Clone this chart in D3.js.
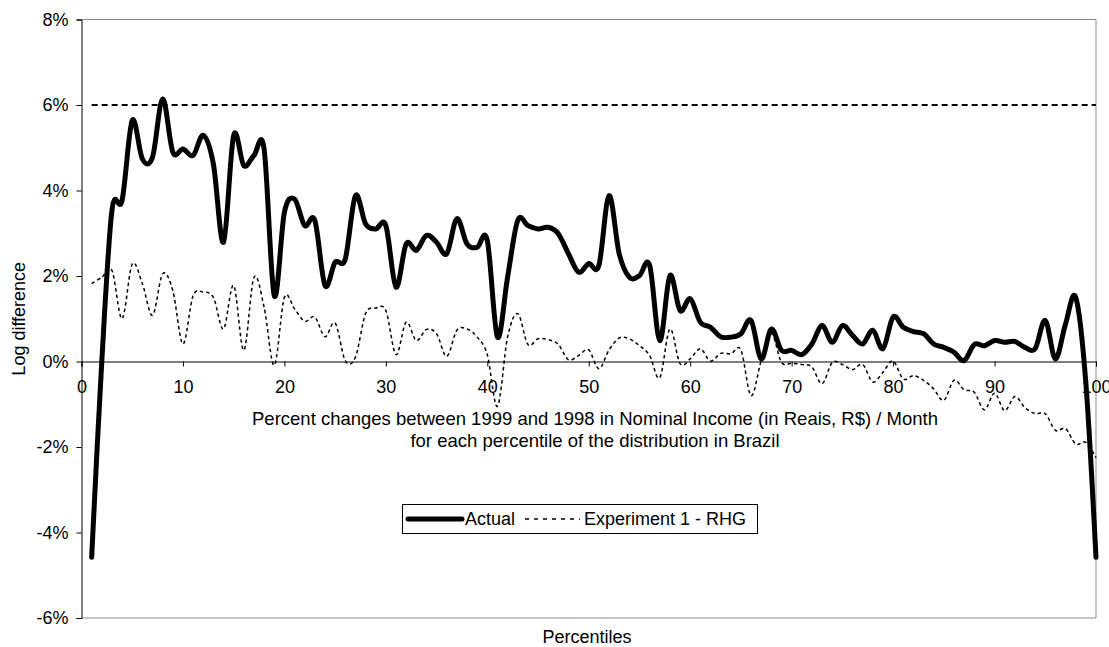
<!DOCTYPE html>
<html>
<head>
<meta charset="utf-8">
<script src="https://cdn.jsdelivr.net/npm/d3@7"></script>
<style>
  body { margin: 0; background: #fff; }
  svg { display: block; }
  text { font-family: "Liberation Sans", Arial, sans-serif; fill: #000; }
</style>
</head>
<body>
<svg id="chart" width="1109" height="647"></svg>
<script>
// ---- Data (values in percent, log difference) ----
const percentiles = d3.range(1, 101);

const actual = [
  -4.58, 0.00, 3.53, 3.77, 5.64, 4.74, 4.78, 6.14, 4.90, 4.97,
   4.82, 5.29, 4.62, 2.79, 5.29, 4.58, 4.82, 4.97, 1.54, 3.49,
   3.80, 3.18, 3.30, 1.78, 2.32, 2.40, 3.88, 3.22, 3.10, 3.18,
   1.74, 2.75, 2.60, 2.95, 2.79, 2.52, 3.34, 2.75, 2.67, 2.83,
   0.57, 1.97, 3.30, 3.18, 3.10, 3.14, 2.99, 2.52, 2.09, 2.29,
   2.25, 3.88, 2.52, 1.97, 2.01, 2.25, 0.49, 2.01, 1.19, 1.47,
   0.92, 0.80, 0.58, 0.57, 0.65, 0.96, 0.06, 0.76, 0.26, 0.26,
   0.16, 0.41, 0.84, 0.45, 0.84, 0.61, 0.41, 0.73, 0.30, 1.04,
   0.80, 0.70, 0.65, 0.41, 0.33, 0.22, 0.02, 0.40, 0.37, 0.49,
   0.45, 0.47, 0.33, 0.30, 0.96, 0.06, 0.88, 1.50, -0.50, -4.58
];

const experiment = [
   1.82, 1.97, 2.13, 1.00, 2.28, 1.82, 1.08, 2.05, 1.66, 0.41,
   1.54, 1.62, 1.50, 0.76, 1.78, 0.26, 1.97, 1.27, -0.09, 1.50,
   1.23, 0.94, 1.04, 0.58, 0.90, 0.02, 0.10, 1.12, 1.25, 1.19,
   0.16, 0.92, 0.49, 0.75, 0.65, 0.12, 0.73, 0.76, 0.57, 0.16,
  -1.05, 0.57, 1.12, 0.40, 0.53, 0.51, 0.40, 0.04, 0.14, 0.27,
  -0.17, 0.27, 0.55, 0.53, 0.37, 0.14, -0.38, 0.76, -0.05, 0.06,
   0.30, 0.01, 0.19, 0.18, 0.27, -0.80, 0.02, 0.65, -0.02, -0.04,
  -0.07, -0.13, -0.52, -0.02, -0.07, -0.19, -0.07, -0.48, -0.25, 0.01,
  -0.41, -0.33, -0.44, -0.64, -0.91, -0.44, -0.66, -0.72, -1.13, -0.74,
  -1.15, -0.82, -1.08, -1.22, -1.22, -1.61, -1.57, -1.93, -1.89, -2.25
];

const benchmarkLevel = 6;

const xTicks = [0, 10, 20, 30, 40, 50, 60, 70, 80, 90, 100];
const yTicks = [-6, -4, -2, 0, 2, 4, 6, 8];

const seriesNames = ["Actual", "Experiment 1 - RHG"];
const titleLines = [
  "Percent changes between 1999 and 1998 in Nominal Income (in Reais, R$) / Month",
  "for each percentile of the distribution in Brazil"
];
const xAxisTitle = "Percentiles";
const yAxisTitle = "Log difference";

// ---- Layout ----
const svg = d3.select("#chart");
const plot = { left: 81.5, right: 1096, top: 19.5, bottom: 618 };
const FS = 18;
const FONT = '"Liberation Sans", Arial, sans-serif';

const x = d3.scaleLinear().domain([0, 100]).range([plot.left, plot.right]);
const y = d3.scaleLinear().domain([-6, 8]).range([plot.bottom, plot.top]);

// plot frame (grey top/right/bottom)
svg.append("path")
  .attr("d", `M${plot.left},${plot.top}H${plot.right}V${plot.bottom}H${plot.left}`)
  .attr("fill", "none").attr("stroke", "#8c8c8c").attr("stroke-width", 1);

// Y axis
const yAxis = d3.axisLeft(y).tickValues(yTicks).tickSize(5).tickPadding(8)
  .tickFormat(d => d + "%");
const gy = svg.append("g").attr("transform", `translate(${plot.left},0)`).call(yAxis);
gy.select(".domain").attr("stroke", "#000");
gy.selectAll(".tick line").attr("stroke", "#000");
gy.selectAll(".tick text").attr("font-size", FS).attr("font-family", FONT);

// X axis at 0%
const xAxis = d3.axisBottom(x).tickValues(xTicks).tickSize(5).tickPadding(14)
  .tickFormat(d3.format("d"));
const gx = svg.append("g").attr("transform", `translate(0,${y(0)})`).call(xAxis);
gx.select(".domain").attr("stroke", "#000");
gx.selectAll(".tick line").attr("stroke", "#000");
gx.selectAll(".tick text").attr("font-size", FS).attr("font-family", FONT);

// Titles
svg.append("text")
  .attr("x", 595).attr("y", 425)
  .attr("text-anchor", "middle").attr("font-size", 18.5)
  .selectAll("tspan").data(titleLines).join("tspan")
  .attr("x", 595).attr("dy", (d, i) => i === 0 ? 0 : 22)
  .text(d => d);

svg.append("text")
  .attr("x", 587).attr("y", 643)
  .attr("text-anchor", "middle").attr("font-size", FS)
  .text(xAxisTitle);

svg.append("text")
  .attr("transform", `translate(25,${(plot.top + plot.bottom) / 2}) rotate(-90)`)
  .attr("text-anchor", "middle").attr("font-size", FS)
  .text(yAxisTitle);

// Lines
const line = d3.line()
  .x((d, i) => x(percentiles[i]))
  .y(d => y(d))
  .curve(d3.curveCardinal.tension(0));

// 6% reference line
svg.append("path")
  .datum(percentiles.map(() => benchmarkLevel))
  .attr("d", d3.line().x((d, i) => x(percentiles[i])).y(d => y(d)))
  .attr("fill", "none").attr("stroke", "#000")
  .attr("stroke-width", 2).attr("stroke-dasharray", "6,4");

svg.append("path")
  .datum(experiment)
  .attr("d", line)
  .attr("fill", "none").attr("stroke", "#000")
  .attr("stroke-width", 1.5).attr("stroke-dasharray", "3.5,3");

svg.append("path")
  .datum(actual)
  .attr("d", line)
  .attr("fill", "none").attr("stroke", "#000")
  .attr("stroke-width", 5).attr("stroke-linejoin", "round").attr("stroke-linecap", "round");

// Legend
const lg = svg.append("g");
lg.append("rect")
  .attr("x", 402.5).attr("y", 504.5).attr("width", 355).attr("height", 29)
  .attr("fill", "#fff").attr("stroke", "#000").attr("stroke-width", 1);
const ly = 519;
lg.append("line").attr("x1", 408).attr("x2", 462).attr("y1", ly).attr("y2", ly)
  .attr("stroke", "#000").attr("stroke-width", 5).attr("stroke-linecap", "round");
lg.append("text").attr("x", 465).attr("y", ly).attr("dy", "0.35em")
  .attr("font-size", FS).text(seriesNames[0]);
lg.append("line").attr("x1", 525).attr("x2", 580).attr("y1", ly).attr("y2", ly)
  .attr("stroke", "#000").attr("stroke-width", 1.5).attr("stroke-dasharray", "4,5");
lg.append("text").attr("x", 584).attr("y", ly).attr("dy", "0.35em")
  .attr("font-size", FS).text(seriesNames[1]);
</script>
</body>
</html>
